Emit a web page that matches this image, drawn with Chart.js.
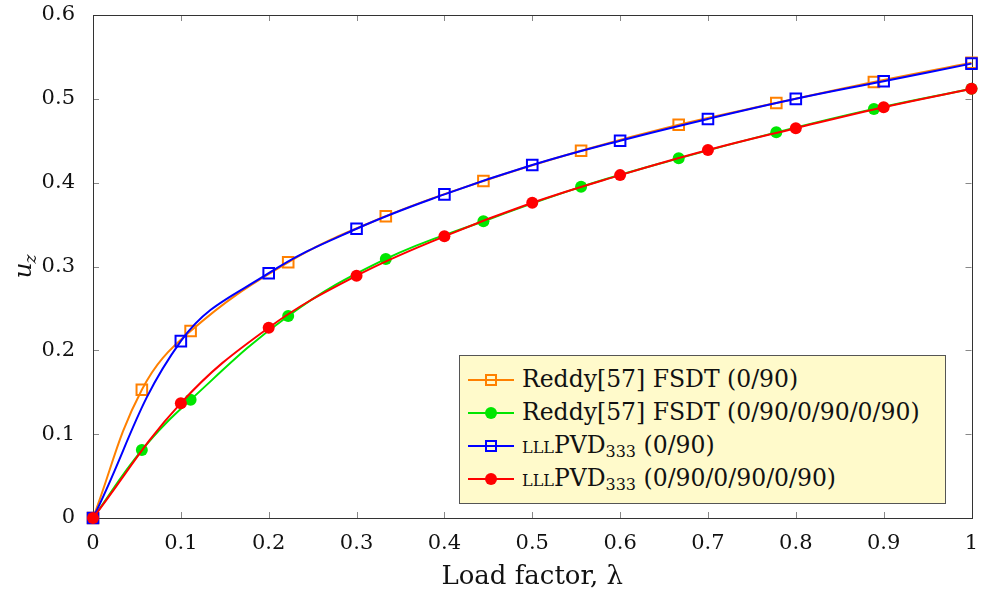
<!DOCTYPE html>
<html>
<head>
<meta charset="utf-8">
<script src="https://cdn.jsdelivr.net/npm/chart.js@4.4.1/dist/chart.umd.min.js"></script>
<style>
body { margin: 0; background: #fff; }
#wrap { position: relative; width: 981px; height: 599px; }
#legend {
    position: absolute; left: 459px; top: 355px; width: 487px; height: 149px;
    background: #fffacb; border: 1px solid #555; box-sizing: border-box;
    font-family: "DejaVu Serif"; font-size: 23.5px; color: #111;
}
.row { position: absolute; left: 0; height: 33px; line-height: 33px; white-space: nowrap; }
.row .ln { position: absolute; left: 8px; top: 16px; width: 46px; height: 2px; }
.row .mk { position: absolute; box-sizing: border-box; }
.row .tx { position: absolute; left: 62px; top: 0; }
.sc { font-size: 16px; }
sub { font-size: 16px; vertical-align: -4px; line-height: 0; }
</style>
</head>
<body>
<div id="wrap">
    <canvas id="grafico" width="981" height="599"></canvas>
    <div id="legend"></div>
</div>
<script>
// Reddy[57] FSDT series
const xReddy = [0, 0.0556, 0.1111, 0.2222, 0.3333, 0.4444, 0.5556, 0.6667, 0.7778, 0.8889, 1.0];
const reddy090 = [0, 0.153, 0.223, 0.305, 0.360, 0.402, 0.438, 0.469, 0.495, 0.520, 0.543];
const reddy6 = [0, 0.081, 0.141, 0.241, 0.309, 0.354, 0.395, 0.429, 0.460, 0.488, 0.512];

// LLL PVD333 series
const xPvd = [0, 0.1, 0.2, 0.3, 0.4, 0.5, 0.6, 0.7, 0.8, 0.9, 1.0];
const pvd090 = [0, 0.211, 0.292, 0.345, 0.386, 0.421, 0.450, 0.476, 0.500, 0.521, 0.542];
const pvd6 = [0, 0.137, 0.227, 0.289, 0.336, 0.376, 0.409, 0.439, 0.465, 0.490, 0.512];

const xTicks = [0, 0.1, 0.2, 0.3, 0.4, 0.5, 0.6, 0.7, 0.8, 0.9, 1];
const yTicks = [0, 0.1, 0.2, 0.3, 0.4, 0.5, 0.6];

const FONT = '"DejaVu Serif"';

function pts(xs, ys) {
    return xs.map((x, i) => ({ x: x, y: ys[i] }));
}

const series = [
    { label: 'Reddy[57] FSDT (0/90)', html: 'Reddy[57] FSDT (0/90)', data: pts(xReddy, reddy090), color: '#ff8000', style: 'rect', order: 4 },
    { label: 'Reddy[57] FSDT (0/90/0/90/0/90)', html: 'Reddy[57] FSDT (0/90/0/90/0/90)', data: pts(xReddy, reddy6), color: '#00e600', style: 'circle', order: 3 },
    { label: 'LLL PVD333 (0/90)', html: '<span class="sc">LLL</span>PVD<sub>333</sub> (0/90)', data: pts(xPvd, pvd090), color: '#0000ff', style: 'rect', order: 2 },
    { label: 'LLL PVD333 (0/90/0/90/0/90)', html: '<span class="sc">LLL</span>PVD<sub>333</sub> (0/90/0/90/0/90)', data: pts(xPvd, pvd6), color: '#ff0000', style: 'circle', order: 1 }
];

const datasets = series.map(s => ({
    label: s.label,
    data: s.data,
    order: s.order,
    borderColor: s.color,
    borderWidth: 2,
    pointStyle: s.style,
    pointRadius: s.style === 'rect' ? 7.5 : 6,
    pointBorderWidth: s.style === 'rect' ? 2 : 0,
    pointBorderColor: s.color,
    pointBackgroundColor: s.style === 'rect' ? 'rgba(0,0,0,0)' : s.color,
    tension: 0.4,
    clip: false
}));

// frame, inward ticks and y title
const framePlugin = {
    id: 'frame',
    beforeDatasetsDraw(chart) {
        const { ctx, chartArea: a, scales } = chart;
        ctx.save();
        ctx.strokeStyle = '#888';
        ctx.lineWidth = 1;
        ctx.beginPath();
        xTicks.forEach(v => {
            const px = Math.round(scales.x.getPixelForValue(v)) + 0.5;
            ctx.moveTo(px, a.bottom); ctx.lineTo(px, a.bottom - 6);
            ctx.moveTo(px, a.top); ctx.lineTo(px, a.top + 6);
        });
        yTicks.forEach(v => {
            const py = Math.round(scales.y.getPixelForValue(v)) + 0.5;
            ctx.moveTo(a.left, py); ctx.lineTo(a.left + 6, py);
            ctx.moveTo(a.right, py); ctx.lineTo(a.right - 6, py);
        });
        ctx.stroke();
        ctx.strokeStyle = '#333';
        ctx.strokeRect(Math.round(a.left) + 0.5, Math.round(a.top) + 0.5,
            Math.round(a.right - a.left), Math.round(a.bottom - a.top));
        ctx.restore();
    },
    afterDraw(chart) {
        const ctx = chart.ctx;
        const a = chart.chartArea;
        ctx.save();
        ctx.translate(31, (a.top + a.bottom) / 2);
        ctx.rotate(-Math.PI / 2);
        ctx.fillStyle = '#111';
        ctx.textBaseline = 'alphabetic';
        ctx.font = 'italic 25px ' + FONT;
        ctx.fillText('u', -12, 0);
        ctx.font = 'italic 17px ' + FONT;
        ctx.fillText('z', 3, 5);
        ctx.restore();
    }
};

const chart = new Chart(document.getElementById('grafico'), {
    type: 'line',
    data: { datasets: datasets },
    options: {
        responsive: false,
        animation: false,
        layout: { padding: { left: 0, right: 8, top: 15, bottom: 0 } },
        plugins: {
            legend: { display: false },
            tooltip: { enabled: false }
        },
        scales: {
            x: {
                type: 'linear',
                min: 0,
                max: 1,
                afterBuildTicks: s => { s.ticks = xTicks.map(v => ({ value: v })); },
                afterFit: s => { s.height = 81; s.paddingLeft = 0; s.paddingRight = 0; },
                grid: { display: false },
                border: { display: false },
                ticks: {
                    color: '#111',
                    font: { family: FONT, size: 21 },
                    padding: 5,
                    maxRotation: 0,
                    autoSkip: false,
                    callback: v => String(+v.toFixed(1))
                },
                title: {
                    display: true,
                    text: 'Load factor, λ',
                    color: '#111',
                    font: { family: FONT, size: 26 },
                    padding: { top: 0, bottom: 6 }
                }
            },
            y: {
                min: 0,
                max: 0.6,
                afterBuildTicks: s => { s.ticks = yTicks.map(v => ({ value: v })); },
                afterFit: s => { s.width = 93; s.paddingTop = 0; s.paddingBottom = 0; },
                grid: { display: false },
                border: { display: false },
                ticks: {
                    color: '#111',
                    font: { family: FONT, size: 21 },
                    padding: 10,
                    autoSkip: false,
                    callback: v => String(+v.toFixed(1))
                }
            }
        }
    },
    plugins: [framePlugin]
});

// legend box drawn as html over the chart
const legend = document.getElementById('legend');
series.forEach((s, i) => {
    const row = document.createElement('div');
    row.className = 'row';
    row.style.top = (7 + i * 33) + 'px';
    const ln = document.createElement('div');
    ln.className = 'ln';
    ln.style.background = s.color;
    const mk = document.createElement('div');
    mk.className = 'mk';
    if (s.style === 'rect') {
        mk.style.cssText = 'left:25px;top:11px;width:12px;height:12px;border:2px solid ' + s.color + ';';
    } else {
        mk.style.cssText = 'left:25px;top:11px;width:12px;height:12px;border-radius:50%;background:' + s.color + ';';
    }
    const tx = document.createElement('div');
    tx.className = 'tx';
    tx.innerHTML = s.html;
    row.appendChild(ln);
    row.appendChild(mk);
    row.appendChild(tx);
    legend.appendChild(row);
});
</script>
</body>
</html>
